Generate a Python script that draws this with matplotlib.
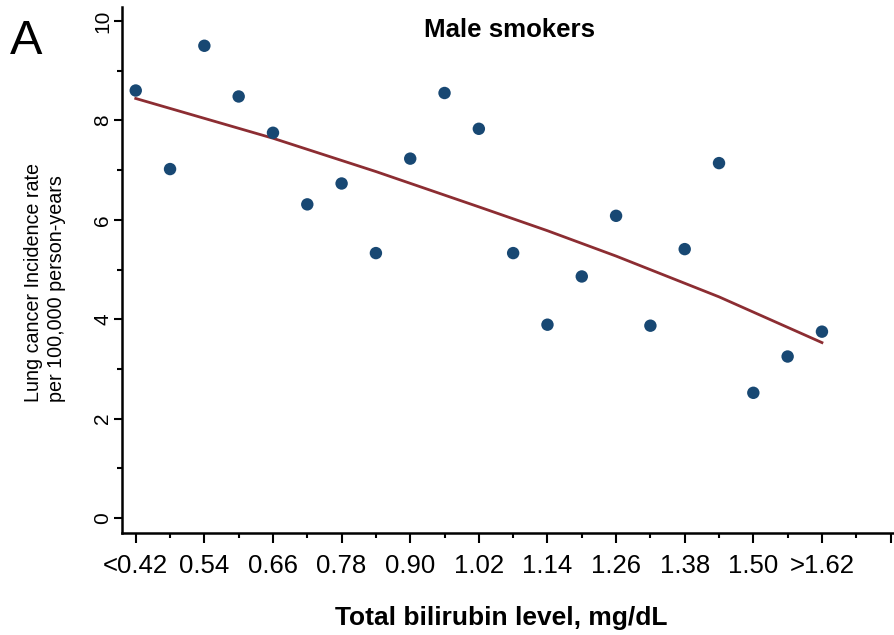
import matplotlib
matplotlib.use('Agg')
import matplotlib.pyplot as plt
import numpy as np

plt.rcParams['font.family'] = ['Liberation Sans', 'DejaVu Sans']

# bilirubin categories (mg/dL), one point each
levels = ['<0.42', '0.48', '0.54', '0.60', '0.66', '0.72', '0.78', '0.84', '0.90', '0.96',
          '1.02', '1.08', '1.14', '1.20', '1.26', '1.32', '1.38', '1.44', '1.50', '1.56', '>1.62']
# incidence rate per 100,000 person-years
rates = [8.60, 7.02, 9.50, 8.48, 7.75, 6.31, 6.73, 5.33, 7.23, 8.55, 7.83,
         5.33, 3.89, 4.86, 6.08, 3.87, 5.41, 7.14, 2.52, 3.25, 3.75]
# fitted trend
fit_pos = [0, 4, 7, 10, 12, 14, 17, 20]
fit_vals = [8.44, 7.64, 6.97, 6.26, 5.78, 5.27, 4.45, 3.53]

point_color = '#184873'
line_color = '#8c2d32'

fig = plt.figure(figsize=(8.94, 6.35), dpi=100)
ax = fig.add_axes([0.1361, 0.1606, 0.8639, 0.8284])

x = np.arange(len(levels))
ax.plot(fit_pos, fit_vals, color=line_color, lw=2.0, zorder=2)
ax.scatter(x, rates, s=80, color=point_color, edgecolors='none', zorder=3)

ax.set_xlim(-0.41, 22.1)
ax.set_ylim(-0.30, 10.28)

ax.spines['top'].set_visible(False)
ax.spines['right'].set_visible(False)
for s in ['left', 'bottom']:
    ax.spines[s].set_linewidth(1.8)

major_x = np.arange(0, 23, 2)
ax.set_xticks(major_x)
ax.set_xticklabels([levels[i] if i < len(levels) else '' for i in major_x])
ax.set_xticks(np.arange(1, 22, 2), minor=True)
ax.set_yticks(np.arange(0, 11, 2))
ax.set_yticks(np.arange(1, 10, 2), minor=True)

ax.tick_params(axis='x', which='major', length=7.2, width=1.5, labelsize=18.5, pad=8)
ax.tick_params(axis='x', which='minor', length=3.6, width=1.5)
ax.tick_params(axis='y', which='major', length=5.8, width=1.5, labelsize=15, pad=1)
ax.tick_params(axis='y', which='minor', length=3.6, width=1.5)
for lab in ax.get_yticklabels():
    lab.set_rotation(90)
    lab.set_va('center')

ax.set_xlabel('Total bilirubin level, mg/dL', fontsize=19, fontweight='bold')
ax.xaxis.set_label_coords(0.491, -0.138)

fig.text(45 / 894, 1 - 282 / 635, 'Lung cancer Incidence rate\nper 100,000 person-years',
         rotation=90, ha='center', va='center', multialignment='left', fontsize=14.2)
fig.text(509 / 894, 1 - 30 / 635, 'Male smokers', ha='center', va='center',
         fontsize=18.6, fontweight='bold')
fig.text(26 / 894, 1 - 42 / 635, 'A', ha='center', va='center', fontsize=35)

fig.savefig('out.png', dpi=100)
